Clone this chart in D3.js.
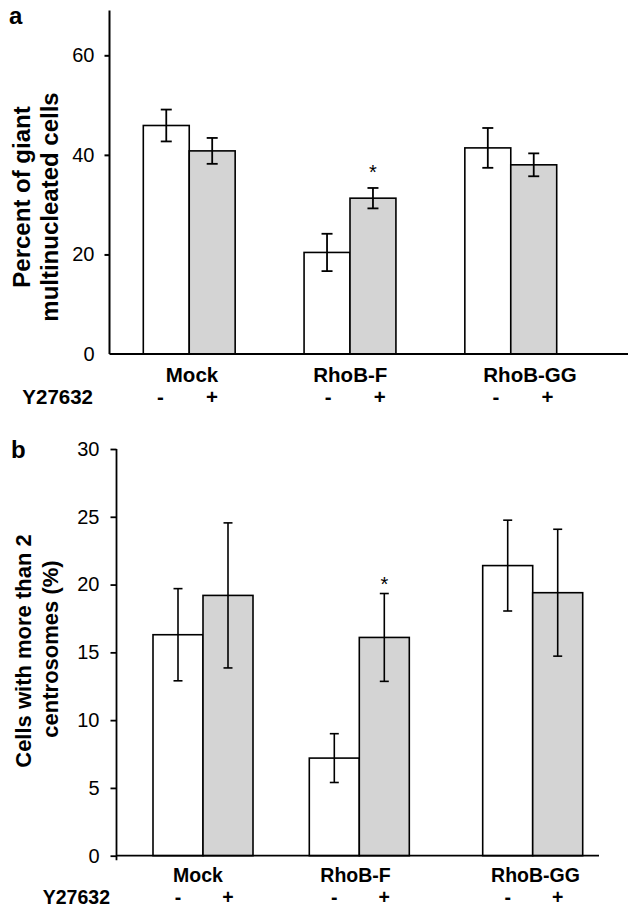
<!DOCTYPE html>
<html>
<head>
<meta charset="utf-8">
<script src="https://cdn.jsdelivr.net/npm/d3@7"></script>
<style>
  html, body { margin: 0; padding: 0; background: #fff; }
  svg { display: block; font-family: "Liberation Sans", Arial, Helvetica, sans-serif; }
</style>
</head>
<body>
<svg id="chart" width="628" height="907"></svg>
<script>
// ---------- data ----------
const groups = ["Mock", "RhoB-F", "RhoB-GG"];
const treatments = ["-", "+"];           // Y27632 absent / present
const rowLabel = "Y27632";

// panel a: percent of giant multinucleated cells
const giantMinus = [45.9, 20.4, 41.4];
const giantPlus  = [40.8, 31.3, 38.0];
const giantErrMinus = [3.2, 3.75, 4.0];
const giantErrPlus  = [2.6, 2.05, 2.3];
const giantTicks = [0, 20, 40, 60];
const giantStars = ["RhoB-F|+"];

// panel b: cells with more than 2 centrosomes (%)
const centMinus = [16.3, 7.2, 21.4];
const centPlus  = [19.2, 16.1, 19.4];
const centErrMinus = [3.4, 1.8, 3.35];
const centErrPlus  = [5.35, 3.24, 4.68];
const centTicks = [0, 5, 10, 15, 20, 25, 30];
const centStars = ["RhoB-F|+"];

function rows(minus, plus, eMinus, ePlus) {
  const out = [];
  groups.forEach((g, i) => {
    out.push({ g, t: "-", v: minus[i], e: eMinus[i] });
    out.push({ g, t: "+", v: plus[i], e: ePlus[i] });
  });
  return out;
}

const svg = d3.select("#chart");
const fillOf = t => t === "-" ? "#ffffff" : "#d4d4d4";

function drawPanel(cfg) {
  const g = svg.append("g");
  const y = d3.scaleLinear().domain(cfg.yDomain).range(cfg.yRange);

  const data = cfg.data;
  g.selectAll("rect.bar").data(data).enter().append("rect")
    .attr("class", "bar")
    .attr("x", d => cfg.barX(d))
    .attr("width", cfg.barW)
    .attr("y", d => y(d.v))
    .attr("height", d => y(0) - y(d.v))
    .attr("fill", d => fillOf(d.t))
    .attr("stroke", "#000")
    .attr("stroke-width", cfg.barStroke);

  const eb = g.selectAll("g.err").data(data).enter().append("g").attr("class", "err")
    .attr("stroke", "#000").attr("stroke-width", cfg.errStroke);
  const cx = d => cfg.barX(d) + cfg.barW / 2;
  eb.append("line").attr("x1", cx).attr("x2", cx)
    .attr("y1", d => y(d.v + d.e)).attr("y2", d => y(d.v - d.e));
  eb.append("line").attr("x1", d => cx(d) - cfg.cap).attr("x2", d => cx(d) + cfg.cap)
    .attr("y1", d => y(d.v + d.e)).attr("y2", d => y(d.v + d.e));
  eb.append("line").attr("x1", d => cx(d) - cfg.cap).attr("x2", d => cx(d) + cfg.cap)
    .attr("y1", d => y(d.v - d.e)).attr("y2", d => y(d.v - d.e));

  g.selectAll("text.star").data(data.filter(d => cfg.stars.includes(d.g + "|" + d.t)))
    .enter().append("text").attr("class", "star")
    .attr("x", cx).attr("y", d => y(d.v + d.e) - cfg.starGap)
    .attr("text-anchor", "middle").attr("font-size", 20).text("*");

  const axis = d3.axisLeft(y).tickValues(cfg.ticks).tickSize(cfg.tickSize).tickPadding(cfg.tickPad);
  const ag = g.append("g").attr("transform", `translate(${cfg.axisX},0)`).call(axis);
  ag.select(".domain").remove();
  ag.selectAll(".tick line").attr("stroke", "#000").attr("stroke-width", cfg.axisStroke)
    .filter(d => d === 0 && !cfg.zeroTick).remove();
  ag.selectAll(".tick text").attr("font-size", 20).attr("fill", "#000")
    .attr("font-family", "Liberation Sans, Arial, sans-serif");
  g.append("line").attr("x1", cfg.axisX).attr("x2", cfg.axisX)
    .attr("y1", y(cfg.axisTop)).attr("y2", y(0) + cfg.axisBelow)
    .attr("stroke", "#000").attr("stroke-width", cfg.axisStroke);
  g.append("line").attr("x1", cfg.axisX).attr("x2", cfg.baseEnd)
    .attr("y1", y(0)).attr("y2", y(0))
    .attr("stroke", "#000").attr("stroke-width", cfg.axisStroke);

  cfg.title.forEach((line, i) => {
    g.append("text")
      .attr("transform", `translate(${cfg.titleX[i]},${cfg.titleY[i]}) rotate(-90)`)
      .attr("text-anchor", "middle").attr("font-weight", "bold")
      .attr("font-size", cfg.titleSize).text(line);
  });

  g.selectAll("text.cat").data(groups).enter().append("text").attr("class", "cat")
    .attr("x", d => cfg.catX(d)).attr("y", cfg.catY)
    .attr("text-anchor", "middle").attr("font-weight", "bold").attr("font-size", cfg.labSize).text(d => d);
  g.selectAll("text.sign").data(data).enter().append("text").attr("class", "sign")
    .attr("x", d => cfg.signX(d)).attr("y", cfg.signY)
    .attr("text-anchor", "middle").attr("font-weight", "bold").attr("font-size", cfg.labSize).text(d => d.t);
  g.append("text").attr("x", cfg.rowX).attr("y", cfg.signY)
    .attr("text-anchor", "end").attr("font-weight", "bold").attr("font-size", cfg.labSize).text(rowLabel);

  g.append("text").attr("x", cfg.letterX).attr("y", cfg.letterY)
    .attr("font-weight", "bold").attr("font-size", 24).text(cfg.letter);
}

// ---------- panel a ----------
const xA = d3.scaleBand().domain(groups).range([143.3, 556.7]).paddingInner(0.4286).paddingOuter(0);
const xAin = d3.scaleBand().domain(treatments).range([0, xA.bandwidth()]);
const catA = d3.scaleOrdinal().domain(groups).range([192, 350.3, 530]);
const signA = d3.scalePoint().domain(groups).range([160.5, 496]);
drawPanel({
  data: rows(giantMinus, giantPlus, giantErrMinus, giantErrPlus),
  yDomain: [0, 60], yRange: [354, 55.3],
  axisTop: 69, axisBelow: 0, zeroTick: false,
  ticks: giantTicks, tickSize: 5, tickPad: 10,
  axisX: 109.5, baseEnd: 628,
  barX: d => xA(d.g) + xAin(d.t), barW: xAin.bandwidth(),
  barStroke: 1.6, errStroke: 1.8, axisStroke: 2, cap: 5.5,
  stars: giantStars, starGap: 9,
  title: ["Percent of giant", "multinucleated cells"],
  titleX: [30, 58], titleY: [197, 207], titleSize: 24,
  catX: d => catA(d), catY: 381.7, labSize: 20.5,
  signX: d => signA(d.g) + (d.t === "+" ? 51.5 : 0), signY: 404,
  rowX: 93,
  letter: "a", letterX: 9, letterY: 24
});

// ---------- panel b ----------
const xB = d3.scaleOrdinal().domain(groups).range([153, 309.3, 482.7]);
const xBin = d3.scaleBand().domain(treatments).range([0, 100]);
const catB = d3.scaleOrdinal().domain(groups).range([198, 355.5, 535.5]);
drawPanel({
  data: rows(centMinus, centPlus, centErrMinus, centErrPlus),
  yDomain: [0, 30], yRange: [855.7, 449],
  axisTop: 30, axisBelow: 4.5, zeroTick: true,
  ticks: centTicks, tickSize: 6, tickPad: 11,
  axisX: 116.5, baseEnd: 599,
  barX: d => xB(d.g) + xBin(d.t), barW: xBin.bandwidth(),
  barStroke: 1.6, errStroke: 1.6, axisStroke: 1.8, cap: 4.5,
  stars: centStars, starGap: 3,
  title: ["Cells with more than 2", "centrosomes (%)"],
  titleX: [31, 58], titleY: [651, 649], titleSize: 22,
  catX: d => catB(d), catY: 881.5, labSize: 19.5,
  signX: d => xB(d.g) + xBin(d.t) + xBin.bandwidth() / 2, signY: 904,
  rowX: 110,
  letter: "b", letterX: 11, letterY: 458
});
</script>
</body>
</html>
